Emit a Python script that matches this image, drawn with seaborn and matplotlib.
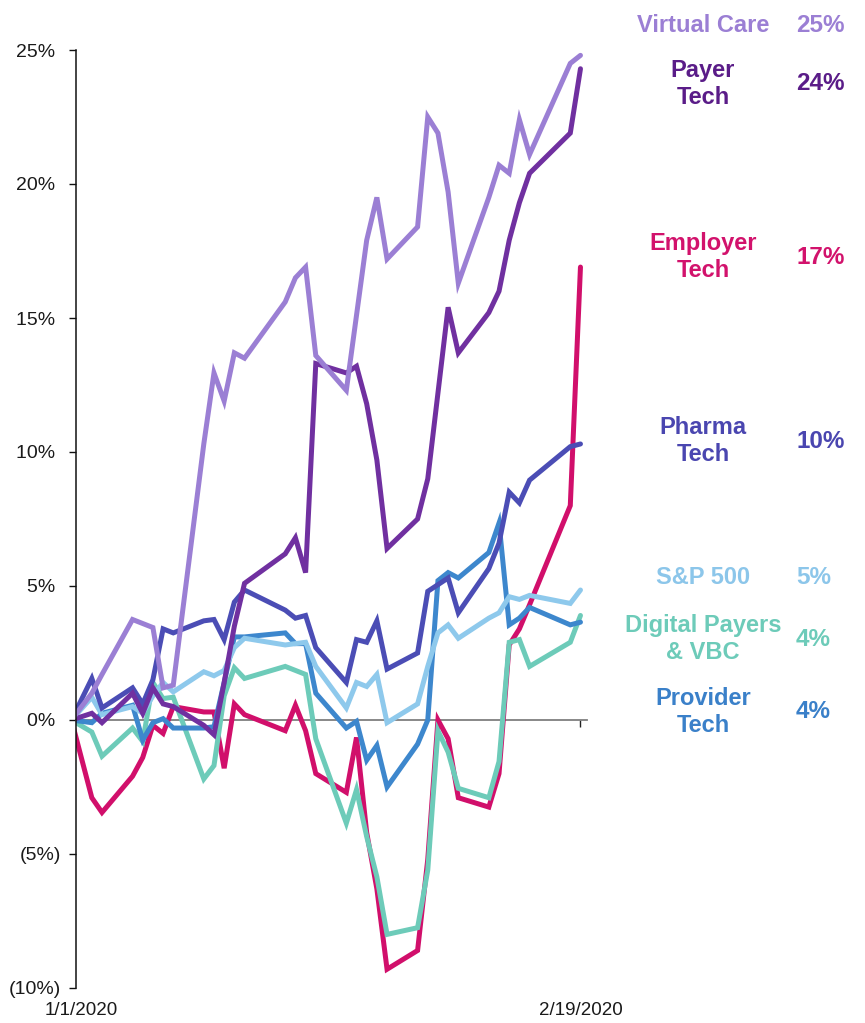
import pandas as pd
import matplotlib
matplotlib.use("Agg")
import matplotlib.pyplot as plt
import matplotlib.dates as mdates
import matplotlib.transforms as mtransforms
import seaborn as sns

# ---- data (cumulative return, %) ----
dates = ["2019-12-31", "2020-01-02", "2020-01-03", "2020-01-06", "2020-01-07", "2020-01-08",
         "2020-01-09", "2020-01-10", "2020-01-13", "2020-01-14", "2020-01-15", "2020-01-16",
         "2020-01-17", "2020-01-21", "2020-01-22", "2020-01-23", "2020-01-24", "2020-01-27",
         "2020-01-28", "2020-01-29", "2020-01-30", "2020-01-31", "2020-02-03", "2020-02-04",
         "2020-02-05", "2020-02-06", "2020-02-07", "2020-02-10", "2020-02-11", "2020-02-12",
         "2020-02-13", "2020-02-14", "2020-02-18", "2020-02-19"]

virtual_care = [0, 1.0, 1.7, 3.75, 3.6, 3.45, 1.2, 1.3, 10.3, 12.95, 11.9, 13.7,
                13.5, 15.6, 16.5, 16.9, 13.6, 12.3, 15.1, 17.9, 19.5, 17.2, 18.4, 22.5,
                21.9, 19.7, 16.3, 19.5, 20.7, 20.4, 22.4, 21.1, 24.5, 24.8]
payer_tech = [0, 0.25, -0.1, 1.0, 0.25, 1.2, 0.6, 0.5, -0.2, -0.55, 1.4, 3.5,
              5.1, 6.2, 6.8, 5.5, 13.3, 12.95, 13.2, 11.8, 9.7, 6.4, 7.5, 9.0,
              12.2, 15.4, 13.7, 15.2, 16.0, 17.9, 19.3, 20.4, 21.9, 24.3]
employer_tech = [0, -2.9, -3.45, -2.1, -1.4, -0.2, -0.5, 0.5, 0.3, 0.3, -1.8, 0.6,
                 0.2, -0.4, 0.55, -0.4, -2.0, -2.7, -0.65, -4.2, -6.3, -9.3, -8.6, -5.2,
                 0.0, -0.7, -2.9, -3.25, -2.0, 2.8, 3.4, 4.3, 8.0, 16.9]
pharma_tech = [0, 1.55, 0.45, 1.2, 0.6, 1.5, 3.4, 3.25, 3.7, 3.75, 3.0, 4.4,
               4.85, 4.1, 3.8, 3.9, 2.7, 1.4, 3.0, 2.9, 3.7, 1.9, 2.5, 4.8,
               5.05, 5.3, 4.0, 5.65, 6.6, 8.5, 8.1, 8.95, 10.2, 10.3]
sp500 = [0, 0.85, 0.2, 0.5, 0.25, 0.9, 1.4, 1.05, 1.8, 1.65, 1.85, 2.7,
         3.05, 2.8, 2.85, 2.9, 2.0, 0.45, 1.4, 1.25, 1.7, -0.1, 0.6, 2.0,
         3.25, 3.55, 3.05, 3.8, 4.0, 4.6, 4.5, 4.65, 4.35, 4.85]
digital_payers = [0, -0.45, -1.35, -0.3, -0.8, 1.4, 0.8, 0.85, -2.2, -1.7, 0.9, 1.95,
                  1.55, 2.0, 1.85, 1.7, -0.7, -3.85, -2.6, -4.35, -5.85, -8.0, -7.75, -5.6,
                  -0.4, -1.2, -2.55, -2.9, -1.55, 2.9, 3.0, 2.0, 2.9, 3.9]
provider_tech = [0, -0.1, 0.25, 0.55, -0.75, -0.1, 0.05, -0.3, -0.3, -0.25, 1.4, 3.1,
                 3.1, 3.25, 2.85, 2.85, 1.0, -0.3, -0.05, -1.5, -0.95, -2.5, -0.9, 0.0,
                 5.2, 5.5, 5.3, 6.25, 7.35, 3.55, 3.8, 4.2, 3.55, 3.65]

series_names = ["Employer Tech", "Digital Payers & VBC", "Provider Tech", "S&P 500",
                "Pharma Tech", "Payer Tech", "Virtual Care"]
series_values = [employer_tech, digital_payers, provider_tech, sp500,
                 pharma_tech, payer_tech, virtual_care]
line_colors = ["#D10F6B", "#6DCBB9", "#3D87CD", "#8EC9EC", "#4B4DB5", "#7030A0", "#9B7FD4"]
label_colors = ["#D2126C", "#6DCBB9", "#3A80C9", "#8CC6EA", "#4A46B0", "#5A1C88", "#9B7FD4"]
label_texts = ["Employer\nTech", "Digital Payers\n& VBC", "Provider\nTech", "S&P 500",
               "Pharma\nTech", "Payer\nTech", "Virtual Care"]
label_y_px = [257, 639, 712, 578, 441, 84, 25]

y_ticks = [-10, -5, 0, 5, 10, 15, 20, 25]
y_tick_labels = ["(10%)", "(5%)", "0% ", "5% ", "10% ", "15% ", "20% ", "25% "]
x_label_dates = ["2020-01-01", "2020-02-19"]
x_label_texts = ["1/1/2020", "2/19/2020"]

# ---- long table for seaborn ----
frames = []
for name, vals in zip(series_names, series_values):
    frames.append(pd.DataFrame({"Date": pd.to_datetime(dates), "Return": vals, "Index": name}))
df = pd.concat(frames, ignore_index=True)

sns.set_theme(style="white")
plt.rcParams["font.family"] = ["Liberation Sans", "DejaVu Sans"]

W, H = 865, 1023
fig = plt.figure(figsize=(W / 100, H / 100), dpi=100)
ax = fig.add_axes([76 / W, (H - 988) / H, (587 - 76) / W, (988 - 50) / H])

sns.lineplot(data=df, x="Date", y="Return", hue="Index", hue_order=series_names,
             palette=line_colors, estimator=None, linewidth=3.6, legend=False, ax=ax,
             solid_joinstyle="miter")

x_start = pd.Timestamp("2020-01-01") - pd.Timedelta(hours=13.3)
x_end = pd.Timestamp("2020-02-19") + pd.Timedelta(hours=15.4)
ax.set_xlim(x_start, x_end)
ax.set_ylim(-10, 25)

# axes styling
for s in ["top", "right"]:
    ax.spines[s].set_visible(False)
ax.spines["left"].set_color("#111111")
ax.spines["left"].set_linewidth(1.1)
ax.spines["bottom"].set_position(("data", 0))
ax.spines["bottom"].set_color("#7f7f7f")
ax.spines["bottom"].set_linewidth(1.3)
ax.spines["bottom"].set_zorder(1)

ax.set_yticks(y_ticks)
ax.set_yticklabels(y_tick_labels)
ax.tick_params(axis="y", left=True, length=5, width=1, color="#111111", pad=6,
               labelsize=14, labelcolor="#1a1a1a")
ax.set_xticks([pd.Timestamp("2020-02-19")])
ax.tick_params(axis="x", bottom=True, length=5, width=1, color="#222222", labelbottom=False)
ax.set_xlabel("")
ax.set_ylabel("")
ax.grid(False)

trans = mtransforms.blended_transform_factory(ax.transData, ax.transAxes)
for d, t in zip(x_label_dates, x_label_texts):
    ax.text(mdates.date2num(pd.Timestamp(d)), -0.0245, t, transform=trans,
            ha="center", va="center", fontsize=13.5, color="#1a1a1a", clip_on=False)

# right-hand labels
for name, vals, col, txt, ypx in zip(series_names, series_values, label_colors,
                                     label_texts, label_y_px):
    yf = 1 - ypx / H
    fig.text(703 / W, yf, txt, ha="center", va="center", fontsize=17,
             fontweight="bold", color=col, linespacing=1.22)
    fig.text(796 / W, yf, f"{round(vals[-1])}%", ha="left", va="center",
             fontsize=17.5, fontweight="bold", color=col)

fig.savefig("out.png", dpi=100)
